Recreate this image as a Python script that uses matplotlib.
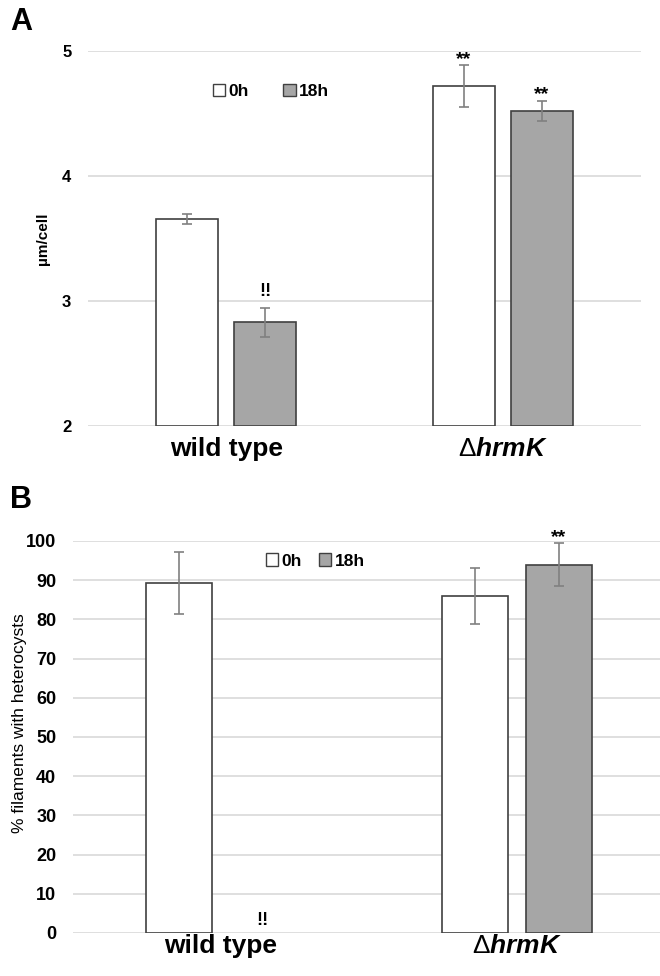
import matplotlib.pyplot as plt
from matplotlib.patches import Patch

plt.rcParams["font.family"] = ["Liberation Sans", "DejaVu Sans"]
plt.rcParams["mathtext.fontset"] = "custom"
plt.rcParams["mathtext.rm"] = "Liberation Sans"
plt.rcParams["mathtext.bf"] = "Liberation Sans:bold"
plt.rcParams["mathtext.it"] = "Liberation Sans:italic"
plt.rcParams["mathtext.bfit"] = "Liberation Sans:bold:italic"

strains = ["wild type", r"$\mathrm{\Delta}\bfit{hrmK}$"]
times = ["0h", "18h"]

# panel A: cell length
length_0h = [3.66, 4.72]
length_0h_err = [0.04, 0.165]
length_18h = [2.83, 4.52]
length_18h_err = [0.115, 0.08]
length_marks_0h = ["", "**"]
length_marks_18h = ["!!", "**"]

# panel B: filaments with heterocysts
het_0h = [89.3, 86.0]
het_0h_err = [8.0, 7.2]
het_18h = [0.0, 94.0]
het_18h_err = [0.0, 5.4]
het_marks_0h = ["", ""]
het_marks_18h = ["!!", "**"]

fills = ["white", "#a6a6a6"]
edge = "#404040"
err_color = "#808080"


def draw_panel(ax, vals0, err0, vals1, err1, marks0, marks1, ylim, step, pads):
    x = [0, 1]
    width = 0.224
    off = 0.141
    for vals, errs, marks, dx, fc in [
        (vals0, err0, marks0, -off, fills[0]),
        (vals1, err1, marks1, off, fills[1]),
    ]:
        pos = [xi + dx for xi in x]
        bottom = ylim[0]
        for p, v, e, m in zip(pos, vals, errs, marks):
            if v > bottom:
                ax.bar(p, v - bottom, width, bottom=bottom, color=fc,
                       edgecolor=edge, linewidth=1.2, zorder=3)
            if e > 0:
                ax.errorbar(p, v, yerr=e, color=err_color, capsize=3.5,
                            elinewidth=1.2, capthick=1.2, zorder=4)
            if m:
                pad = pads[0] if m == "**" else pads[1]
                ax.text(p, max(v + e, bottom) + pad, m, ha="center", va="bottom",
                        fontsize=14 if m == "**" else 13, fontweight="bold", zorder=5)
    ax.set_xlim(-0.5, 1.5)
    ax.set_ylim(*ylim)
    ax.set_yticks(list(range(ylim[0], ylim[1] + 1, step)))
    ax.yaxis.grid(True, color="#d9d9d9", linewidth=1.2, zorder=0)
    ax.set_axisbelow(True)
    for s in ax.spines.values():
        s.set_visible(False)
    ax.tick_params(length=0)
    ax.set_xticks(x)
    ax.set_xticklabels(strains, fontsize=19, fontweight="bold")
    for lbl in ax.get_yticklabels():
        lbl.set_fontweight("bold")


fig = plt.figure(figsize=(6.6, 9.76), dpi=100)

axA = fig.add_axes([0.1333, 0.5635, 0.8377, 0.3842])
draw_panel(axA, length_0h, length_0h_err, length_18h, length_18h_err,
           length_marks_0h, length_marks_18h, (2, 5), 1, (-0.02, 0.06))
axA.tick_params(axis="y", labelsize=12, pad=12)
axA.tick_params(axis="x", pad=8)
axA.set_ylabel("µm/cell", fontsize=11, fontweight="bold")
axA.yaxis.set_label_coords(-0.069, 0.50)

axB = fig.add_axes([0.1106, 0.0441, 0.897, 0.4016])
draw_panel(axB, het_0h, het_0h_err, het_18h, het_18h_err,
           het_marks_0h, het_marks_18h, (0, 100), 10, (-0.6, 1.0))
axB.tick_params(axis="y", labelsize=13, pad=12)
axB.tick_params(axis="x", pad=1)
axB.set_ylabel("% filaments with heterocysts", fontsize=12.5)
axB.yaxis.set_label_coords(-0.078, 0.536)

for ax, anchor, gap in [(axA, (0.331, 0.891), 2.0), (axB, (0.409, 0.949), 1.0)]:
    handles = [Patch(facecolor=fc, edgecolor=edge, linewidth=1.0) for fc in fills]
    ax.legend(handles, times, loc="center", bbox_to_anchor=anchor, ncol=2,
              frameon=False, handlelength=0.7, handleheight=0.7,
              handletextpad=0.2, columnspacing=gap,
              prop={"size": 12.5, "weight": "bold"})

fig.text(0.015, 0.993, "A", fontsize=22, fontweight="bold", va="top")
fig.text(0.015, 0.503, "B", fontsize=22, fontweight="bold", va="top")

fig.savefig("out.png", dpi=100)
